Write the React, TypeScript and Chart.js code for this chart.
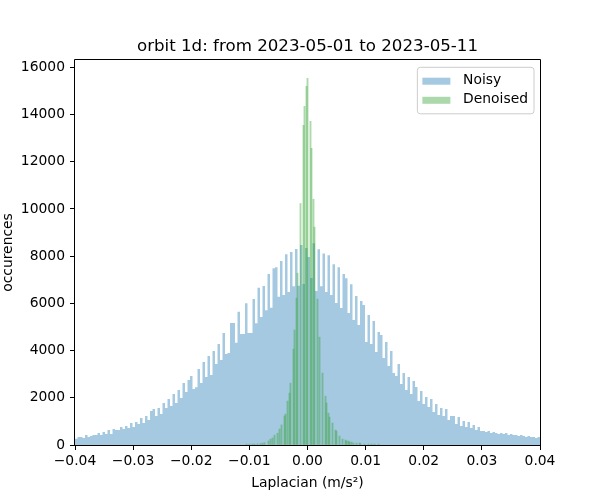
import React, { useEffect, useRef } from "react";
import { Chart, registerables } from "chart.js";

Chart.register(...registerables);

const TITLE = "orbit 1d: from 2023-05-01 to 2023-05-11";
const X_LABEL = "Laplacian (m/s²)";
const Y_LABEL = "occurences";
const SERIES_NAMES = ["Noisy", "Denoised"];

const X_MIN = -0.04;
const X_MAX = 0.04;
const Y_MIN = 0;
const Y_MAX = 16310;
const X_TICKS = [-0.04, -0.03, -0.02, -0.01, 0, 0.01, 0.02, 0.03, 0.04];
const Y_TICKS = [0, 2000, 4000, 6000, 8000, 10000, 12000, 14000, 16000];

// Noisy histogram: 186 equal bins spanning -0.04 .. 0.04
const NOISY_BIN_START = -0.04;
const NOISY_BIN_COUNT = 186;
const NOISY_COUNTS = [
  260, 340, 340, 300, 423, 340, 380, 423, 423, 508, 423, 550, 465, 635, 465, 677,
  635, 635, 762, 677, 804, 720, 931, 762, 974, 889, 1143, 931, 1228, 1058, 1439, 1524,
  1228, 1566, 1312, 1778, 1566, 1947, 1651, 2159, 1778, 2328, 1990, 2624, 2243, 2751, 2921, 2370,
  2450, 3217, 2624, 3513, 2878, 3767, 2963, 3979, 3429, 4275, 3598, 4741, 3852, 3900, 5164, 5170,
  4330, 5640, 4700, 4700, 6010, 4750, 4750, 6190, 5160, 6660, 5420, 6740, 5710, 7240, 5810, 7490,
  7530, 6280, 7790, 6350, 8085, 6480, 8180, 6730, 8300, 6750, 8470, 6820, 8350, 7960, 7080, 8550,
  6519, 8297, 6730, 8113, 6477, 8043, 6350, 7662, 6011, 7535, 5799, 7239, 7069, 5588, 6815, 5291,
  6307, 5080, 6096, 5926, 4360, 5503, 4275, 5249, 3937, 4783, 4656, 3683, 4360, 3344, 3979, 3048,
  2921, 3429, 2582, 3048, 2328, 2878, 2159, 2709, 2455, 1863, 2286, 1736, 2032, 1609, 1947, 1397,
  1736, 1270, 1566, 1228, 1524, 1058, 1228, 1228, 889, 1185, 804, 1016, 762, 974,
  720, 847, 635, 762, 593, 593, 550, 593, 508, 550, 508, 466, 508, 466, 508, 423,
  466, 423, 423, 381, 423, 381, 339, 381, 339, 339, 300, 339,
];

// Denoised histogram: narrow bins, only the non-empty ones (bin centre, count)
const DENOISED_X = [
  -0.010495, -0.009978, -0.009462, -0.009118, -0.008602, -0.008086, -0.007742, -0.007398,
  -0.00671, -0.006366, -0.006022, -0.005677, -0.005161, -0.004817, -0.004473, -0.003957,
  -0.003785, -0.003441, -0.003097, -0.002925, -0.002409, -0.002237, -0.001892, -0.00172,
  -0.001204, -0.000688, -0.000516, -0.000172, 0, 0.000516, 0.000688, 0.001032,
  0.001204, 0.00172, 0.002065, 0.002581, 0.003097, 0.003269, 0.003613, 0.003785,
  0.004301, 0.004817, 0.004989, 0.005505, 0.006022, 0.006538, 0.00671, 0.007054,
  0.007226, 0.00757, 0.007914, 0.00843, 0.008946, 0.009118, 0.009806, 0.010495,
  0.011011, 0.011527, 0.012215,
];
const DENOISED_COUNTS = [
  40, 40, 40, 40, 50, 60, 80, 100,
  170, 250, 300, 420, 500, 680, 850, 1230,
  1310, 1860, 2200, 2620, 4060, 4870, 6220, 7280,
  10230, 13546, 14350, 15197, 15535, 13715, 12572, 10413,
  9228, 6180, 4570, 3050, 2070, 1780, 1350, 1185,
  930, 635, 590, 380, 250, 210, 170, 170,
  127, 127, 85, 85, 85, 60, 42, 42,
  42, 42, 42,
];

const NOISY_COLOR = "rgba(31,119,180,0.4)";
const DENOISED_COLOR = "rgba(44,160,44,0.4)";
const FONT = "'DejaVu Sans', 'Liberation Sans', sans-serif";

const fmtX = (v: number) => {
  const s = Math.abs(v) < 1e-12 ? "0.00" : v.toFixed(2);
  return s.replace("-", "\u2212");
};

const decorPlugin = {
  id: "mplDecor",
  afterDraw(chart: any) {
    const { ctx, chartArea: a } = chart;
    ctx.save();
    // frame (all four spines)
    ctx.strokeStyle = "#000";
    ctx.lineWidth = 1;
    ctx.beginPath();
    ctx.rect(a.left - 0.5, a.top - 0.5, a.right - a.left + 1, a.bottom - a.top + 1);
    ctx.stroke();

    // legend
    const fs = 13.89;
    ctx.font = `${fs}px ${FONT}`;
    const textW = Math.max(...SERIES_NAMES.map((n) => ctx.measureText(n).width));
    const pad = 5;
    const handleLen = 28;
    const handleH = 7;
    const gap = 12.7;
    const boxW = pad + handleLen + gap + textW + pad + 1;
    const boxH = 46.5;
    const boxRight = a.right - 6;
    const boxTop = a.top + 7.3;
    const boxLeft = boxRight - boxW;
    const r = 3;
    ctx.beginPath();
    ctx.moveTo(boxLeft + r, boxTop);
    ctx.lineTo(boxRight - r, boxTop);
    ctx.arcTo(boxRight, boxTop, boxRight, boxTop + r, r);
    ctx.lineTo(boxRight, boxTop + boxH - r);
    ctx.arcTo(boxRight, boxTop + boxH, boxRight - r, boxTop + boxH, r);
    ctx.lineTo(boxLeft + r, boxTop + boxH);
    ctx.arcTo(boxLeft, boxTop + boxH, boxLeft, boxTop + boxH - r, r);
    ctx.lineTo(boxLeft, boxTop + r);
    ctx.arcTo(boxLeft, boxTop, boxLeft + r, boxTop, r);
    ctx.closePath();
    ctx.fillStyle = "rgba(255,255,255,0.8)";
    ctx.fill();
    ctx.strokeStyle = "#cccccc";
    ctx.lineWidth = 1;
    ctx.stroke();

    const colors = [NOISY_COLOR, DENOISED_COLOR];
    const rowY = [boxTop + 13.9, boxTop + 33];
    SERIES_NAMES.forEach((name, i) => {
      ctx.fillStyle = colors[i];
      ctx.fillRect(boxLeft + pad, rowY[i] - handleH / 2, handleLen, handleH);
      ctx.fillStyle = "#000";
      ctx.textAlign = "left";
      ctx.textBaseline = "middle";
      ctx.fillText(name, boxLeft + pad + handleLen + gap, rowY[i] - 0.5);
    });
    ctx.restore();
  },
};

export default function App() {
  const ref = useRef<HTMLCanvasElement>(null);

  useEffect(() => {
    document.body.style.margin = "0";
    const binW = (X_MAX - NOISY_BIN_START) / NOISY_BIN_COUNT;
    const noisyPoints = NOISY_COUNTS.map((c, i) => ({ x: NOISY_BIN_START + i * binW, y: c }));
    noisyPoints.push({ x: NOISY_BIN_START + NOISY_COUNTS.length * binW, y: NOISY_COUNTS[NOISY_COUNTS.length - 1] });
    const denoisedPoints = DENOISED_X.map((x, i) => ({ x, y: DENOISED_COUNTS[i] }));

    const tickFont = { family: FONT, size: 13.89 };
    const chart = new Chart(ref.current!, {
      type: "bar",
      data: {
        datasets: [
          {
            type: "line",
            label: SERIES_NAMES[0],
            data: noisyPoints,
            stepped: "before",
            fill: "origin",
            backgroundColor: NOISY_COLOR,
            borderColor: "rgba(0,0,0,0)",
            borderWidth: 0,
            pointRadius: 0,
            order: 2,
          } as any,
          {
            type: "bar",
            label: SERIES_NAMES[1],
            data: denoisedPoints,
            backgroundColor: DENOISED_COLOR,
            borderWidth: 0,
            barThickness: 1.2,
            grouped: false,
            order: 1,
          } as any,
        ],
      },
      options: {
        responsive: false,
        animation: false,
        devicePixelRatio: 1,
        layout: { padding: { left: 0, right: 60, top: 0, bottom: 0 } },
        plugins: {
          legend: { display: false },
          tooltip: { enabled: false },
          title: {
            display: true,
            fullSize: false,
            text: TITLE,
            color: "#000",
            font: { family: FONT, size: 16.67, weight: "normal" },
            padding: { top: 37, bottom: 3 },
          },
        },
        scales: {
          x: {
            type: "linear",
            min: X_MIN,
            max: X_MAX,
            offset: false,
            afterBuildTicks: (s: any) => {
              s.ticks = X_TICKS.map((v) => ({ value: v }));
            },
            afterFit: (s: any) => {
              s.height = 55;
            },
            grid: { display: true, offset: false, drawOnChartArea: false, drawTicks: true, tickLength: 5, color: "#000", lineWidth: 1 },
            border: { display: false },
            ticks: {
              color: "#000",
              font: tickFont,
              padding: 3,
              maxRotation: 0,
              autoSkip: false,
              callback: (v: any) => fmtX(Number(v)),
            },
            title: {
              display: true,
              text: X_LABEL,
              color: "#000",
              font: tickFont,
              padding: { top: 0, bottom: 8.7 },
            },
          },
          y: {
            type: "linear",
            min: Y_MIN,
            max: Y_MAX,
            afterBuildTicks: (s: any) => {
              s.ticks = Y_TICKS.map((v) => ({ value: v }));
            },
            afterFit: (s: any) => {
              s.width = 75;
            },
            grid: { display: true, offset: false, drawOnChartArea: false, drawTicks: true, tickLength: 5, color: "#000", lineWidth: 1 },
            border: { display: false },
            ticks: {
              color: "#000",
              font: tickFont,
              padding: 5,
              autoSkip: false,
              callback: (v: any) => String(v),
            },
            title: {
              display: true,
              text: Y_LABEL,
              color: "#000",
              font: tickFont,
              padding: { top: 0, bottom: 0 },
            },
          },
        },
      },
      plugins: [decorPlugin],
    } as any);
    return () => chart.destroy();
  }, []);

  return (
    <div style={{ width: 600, height: 500 }}>
      <canvas ref={ref} width={600} height={500} style={{ display: "block" }} />
    </div>
  );
}
